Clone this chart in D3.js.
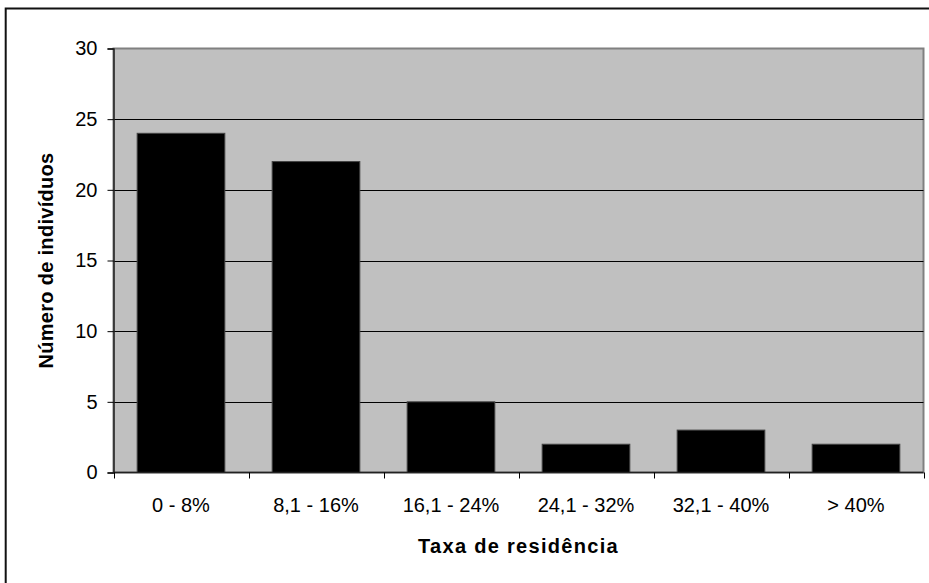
<!DOCTYPE html>
<html><head><meta charset="utf-8">
<script src="https://cdn.jsdelivr.net/npm/d3@7"></script>
<style>html,body{margin:0;padding:0;background:#fff;}svg{display:block;}</style>
</head><body>
<svg id="c" width="929" height="583"></svg>
<script>
const categories = ["0 - 8%", "8,1 - 16%", "16,1 - 24%", "24,1 - 32%", "32,1 - 40%", "> 40%"];
const values = [24, 22, 5, 2, 3, 2];
const yTicks = [0, 5, 10, 15, 20, 25, 30];
const xTitle = "Taxa de residência";
const yTitle = "Número de indivíduos";

const svg = d3.select("#c");
const font = "Arial, 'Liberation Sans', sans-serif";
const L = 113.5, R = 923.5, T = 48.5, B = 472.5;

// outer chart border (cropped at right/bottom)
svg.append("rect").attr("x", 5.7).attr("y", 8.5).attr("width", 940).attr("height", 600)
  .attr("fill", "none").attr("stroke", "#111").attr("stroke-width", 2);

const x = d3.scaleBand().domain(categories).range([L, R]).paddingInner(0.54/1.54).paddingOuter(0.27/1.54);
const xb = d3.scaleBand().domain(categories).range([L, R]).padding(0);
const y = d3.scaleLinear().domain([0, 30]).range([B, T]);

// plot area
svg.append("rect").attr("x", L).attr("y", T).attr("width", R - L).attr("height", B - T)
  .attr("fill", "#C0C0C0").attr("stroke", "#808080").attr("stroke-width", 2);

// gridlines
svg.append("g").selectAll("line").data(yTicks.filter(v => v > 0 && v < 30)).join("line")
  .attr("x1", L).attr("x2", R).attr("y1", d => Math.round(y(d)) + 0.5).attr("y2", d => Math.round(y(d)) + 0.5)
  .attr("stroke", "#000").attr("stroke-width", 1);

// bars
svg.append("g").selectAll("rect").data(values).join("rect")
  .attr("x", (d, i) => x(categories[i]))
  .attr("width", x.bandwidth())
  .attr("y", d => y(d))
  .attr("height", d => B - y(d))
  .attr("fill", "#000").attr("stroke", "#444").attr("stroke-width", 1);

// y axis
const yAxis = d3.axisLeft(y).tickValues(yTicks).tickSize(6).tickPadding(10).tickFormat(d3.format("d"));
const gy = svg.append("g").attr("transform", `translate(${L},0)`).call(yAxis);
gy.select(".domain").attr("stroke", "#222").attr("stroke-width", 1.5);
gy.selectAll(".tick line").attr("stroke", "#000");
gy.selectAll(".tick text").attr("font-family", font).attr("font-size", 20).attr("fill", "#000");

// x axis
const gx = svg.append("g").attr("transform", `translate(0,${B})`);
gx.append("line").attr("x1", L).attr("x2", R).attr("y1", 0).attr("y2", 0).attr("stroke", "#222").attr("stroke-width", 1.5);
const bounds = categories.map(c => xb(c)).concat([R]);
gx.selectAll("line.tk").data(bounds).join("line").attr("class", "tk")
  .attr("x1", d => Math.round(d) + 0.5).attr("x2", d => Math.round(d) + 0.5).attr("y1", 0).attr("y2", 6)
  .attr("stroke", "#000");
gx.selectAll("text").data(categories).join("text")
  .attr("x", d => xb(d) + xb.bandwidth() / 2).attr("y", 39)
  .attr("text-anchor", "middle").attr("font-family", font).attr("font-size", 20).attr("fill", "#000")
  .text(d => d);

// titles
svg.append("text").attr("x", (L + R) / 2).attr("y", 553).attr("text-anchor", "middle")
  .attr("font-family", font).attr("font-size", 20).attr("font-weight", "bold").attr("letter-spacing", "1.3px")
  .text(xTitle);
svg.append("text").attr("transform", `translate(53,${(T + B) / 2}) rotate(-90)`).attr("text-anchor", "middle")
  .attr("font-family", font).attr("font-size", 20).attr("font-weight", "bold").attr("letter-spacing", "0.3px")
  .text(yTitle);
</script>
</body></html>
